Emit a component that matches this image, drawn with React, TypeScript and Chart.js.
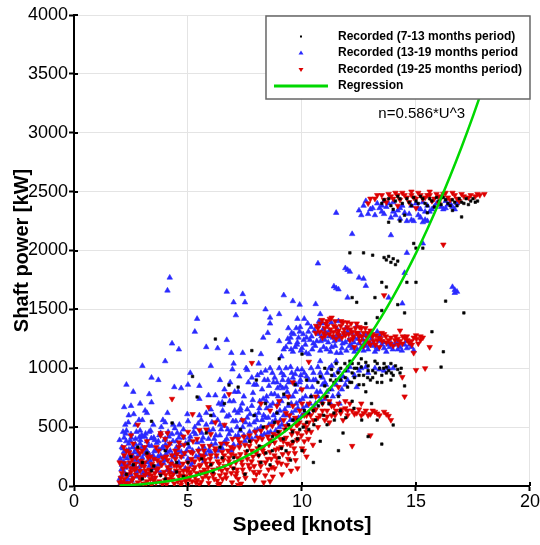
import React, { useEffect, useRef } from "react";
import { Chart, registerables } from "chart.js";

Chart.register(...registerables);

const FONT = "'Liberation Sans', Arial, Helvetica, sans-serif";

// ---------- axis settings ----------
const xTickValues = [0, 5, 10, 15, 20];
const yTickValues = [0, 500, 1000, 1500, 2000, 2500, 3000, 3500, 4000];
const xTitle = "Speed [knots]";
const yTitle = "Shaft power [kW]";

// ---------- legend / annotation ----------
const legendLabels = [
  "Recorded (7-13 months period)",
  "Recorded (13-19 months period",
  "Recorded (19-25 months period)",
  "Regression",
];
const annotationText = "n=0.586*U^3";
const annotationPos = [13.35, 3160];

// ---------- regression n = 0.586*U^3 ----------
const regressionSpeed = [2, 2.5, 3, 3.5, 4, 4.5, 5, 5.5, 6, 6.5, 7, 7.5, 8, 8.5, 9, 9.5, 10, 10.5, 11, 11.5, 12, 12.5, 13, 13.5, 14, 14.5, 15, 15.5, 16, 16.5, 17, 17.5, 18, 18.5, 18.9];
const regressionPower = [4.7, 9.2, 15.8, 25.1, 37.5, 53.4, 73.3, 97.5, 126.6, 160.9, 201, 247.2, 300, 359.9, 427.2, 502.4, 586, 678.4, 780, 891.2, 1012.6, 1144.5, 1287.4, 1441.8, 1608, 1786.5, 1977.8, 2182.2, 2400.3, 2632.4, 2879, 3140.6, 3417.6, 3710.3, 3956.2];

// ---------- Recorded (7-13 months) : [speed knots, power kW] ----------
const black713Low: [number, number][] = [
  [2.3,100],[2.5,250],[2.8,330],[3.0,60],[3.2,280],[3.4,550],[3.5,170],[3.8,90],[4.0,300],[4.3,535],
  [4.5,200],[4.8,80],[5.0,360],[5.2,930],[5.4,756],[5.6,230],[5.8,450],[6.0,600],[6.1,120],[6.2,1248],
  [6.4,330],[6.6,700],[6.8,857],[7.0,240],[7.2,840],[7.3,480],[7.5,100],[7.7,380],[7.8,1150],[7.9,600],
  [8.0,900],[8.1,260],[8.3,500],[8.4,700],[8.6,180],[8.7,420],[8.9,620],[9.0,1080],[9.1,320],[9.2,780],
  [9.3,480],[9.5,220],[9.6,560],[9.7,860],[9.8,400],[10.0,1120],[10.0,300],[10.1,640],[10.3,480],[10.4,760],
  [10.5,200],[10.6,560],[10.7,880],[10.8,380],[10.9,700],[11.0,1000],[11.1,520],[11.2,820],[11.3,940],[11.4,620],
  [11.5,1040],[11.6,760],[11.7,900],[11.8,450],[11.9,980],[12.0,840],[12.1,1060],[12.2,720],[12.3,920],[12.4,1000],
  [12.5,860],[12.6,1080],[12.7,940],[12.8,800],[12.9,1020],[13.0,900],[13.1,980],[13.2,1060],[13.3,880],[13.4,1000],
  [13.5,940],[13.6,1040],[13.8,980],[13.9,900],[14.1,1020],[14.3,960],[14.5,850],[13.5,356],[14.0,518],[12.9,420],
  [13.3,560],[11.6,300],[12.0,1010],[12.8,1050],[13.7,1010],[11.4,880],[12.2,960],[10.2,900],[9.4,700],[8.8,540],
];
const black713Fill: [number, number][] = [
  [10.8,930],[11.0,850],[11.3,990],[11.5,900],[11.7,1000],[11.9,920],[12.1,880],[12.3,1000],[12.5,940],[12.7,860],
  [12.9,980],[13.1,920],[13.3,1040],[13.5,880],[13.7,960],[13.9,1040],[14.0,940],[14.2,990],[12.6,1010],[12.2,1040],
  [11.1,760],[10.5,640],[10.2,540],[9.9,480],[9.6,380],[9.3,300],[9.0,240],[8.7,300],[8.2,200],[7.6,300],
  [7.0,150],[6.5,240],[6.0,180],[5.5,100],[5.0,200],[4.5,120],[4.0,60],[3.4,130],[3.0,200],[2.6,180],
  [8.12,340],[8.42,280],[8.68,380],[8.95,460],[9.18,400],[9.42,520],[9.58,460],[9.82,560],[10.05,500],[10.28,620],
  [10.52,520],[10.72,680],[10.95,600],[11.18,700],[11.42,560],[11.68,640],[11.92,580],[12.28,660],[12.62,560],[13.05,700],
  [11.25,900],[11.58,960],[11.88,1040],[12.18,880],[12.48,1040],[12.88,920],[13.22,960],[13.58,1000],[13.92,960],[14.35,1000],
];
const black713Mid: [number, number][] = [
  [12.4,1560],[12.2,1600],[13.2,1600],[13.5,1490],[14.2,1540],[13.5,1730],[13.7,1690],[14.6,1730],[15.0,1730],[16.3,1570],
  [17.1,1470],[14.5,1470],[15.7,1310],[16.2,1140],[16.1,1010],[12.1,1980],[12.7,1980],[13.1,1960],[13.6,1940],[13.7,1920],
  [13.8,1950],[13.9,1900],[14.0,1930],[14.2,1910],[14.9,2060],[15.0,2020],[15.3,2020],[14.1,1880],[13.3,1430],[12.8,1380],
];
const black713Top: [number, number][] = [
  [13.5,2400],[13.8,2440],[14.0,2350],[14.2,2460],[14.4,2400],[14.6,2440],[14.8,2380],[15.0,2420],[15.2,2460],[15.4,2400],
  [15.6,2440],[15.8,2370],[16.0,2420],[16.2,2450],[16.4,2400],[16.6,2430],[16.8,2380],[17.0,2410],[17.2,2440],[17.4,2420],
  [17.7,2420],[17.0,2285],[13.8,2240],[14.5,2300],[15.5,2320],[16.6,2340],[14.3,2250],
  [13.6,2430],[13.9,2380],[14.1,2420],[14.3,2440],[14.7,2410],[14.9,2450],[15.1,2400],[15.3,2440],[15.5,2380],[15.7,2420],
  [15.9,2450],[16.1,2390],[16.3,2430],[16.5,2380],[16.7,2410],[16.9,2440],[17.1,2400],[17.3,2390],[17.5,2440],[17.6,2410],
];

// ---------- Recorded (13-19 months) ----------
const blue1319Low: [number, number][] = [
  [2.0,60],[2.1,180],[2.1,330],[2.2,120],[2.2,250],[2.2,410],[2.3,40],[2.3,300],[2.3,470],[2.4,190],
  [2.4,360],[2.5,90],[2.5,260],[2.5,440],[2.6,150],[2.6,330],[2.7,220],[2.7,400],[2.7,520],[2.8,80],
  [2.8,290],[2.9,170],[2.9,360],[2.9,470],[3.0,240],[3.0,420],[3.1,120],[3.1,320],[3.2,200],[3.2,380],
  [3.3,270],[3.3,460],[3.4,150],[3.4,340],[3.5,230],[3.5,410],[3.6,300],[3.7,180],[3.7,380],[3.8,260],
  [3.8,450],[3.9,330],[4.0,220],[4.0,400],[4.1,290],[4.2,360],[4.2,170],[4.3,440],[4.4,250],[4.5,330],
  [2.05,25],[2.12,95],[2.18,205],[2.27,155],[2.33,235],[2.41,310],[2.47,385],[2.53,45],[2.58,175],[2.64,285],
  [2.69,355],[2.76,125],[2.82,205],[2.87,415],[2.93,65],[2.98,330],[3.04,185],[3.09,270],[3.14,445],[3.21,95],
  [3.27,345],[3.33,215],[3.39,405],[3.44,60],[3.52,295],[3.58,155],[3.63,365],[3.69,250],[3.74,430],[3.81,110],
  [3.86,320],[3.93,195],[3.97,390],[4.04,270],[4.09,135],[4.16,420],[4.22,300],[4.28,205],[4.34,380],[4.41,115],
  [4.47,270],[4.53,450],[4.58,190],[4.66,350],[4.73,250],[4.81,410],[4.88,150],[4.94,300],[2.15,460],[2.38,540],
  [2.62,610],[2.85,560],[3.12,640],[3.48,520],[3.9,560],[4.35,520],[2.0,390],[2.25,520],[2.5,680],[3.3,780],
  [2.08,140],[2.19,290],[2.29,380],[2.36,60],[2.44,270],[2.51,410],[2.57,330],[2.68,170],[2.74,460],[2.81,260],
  [2.91,390],[3.02,110],[3.11,420],[3.19,300],[3.31,170],[3.36,470],[3.47,260],[3.54,390],[3.66,130],[3.72,310],
  [3.83,500],[3.91,240],[4.01,350],[4.13,460],[4.24,120],[4.31,260],[4.42,490],[4.49,380],[4.57,300],[4.68,440],
  [2.03,230],[2.14,320],[2.26,445],[2.46,110],[2.59,250],[2.72,310],[2.89,140],[2.96,430],
];
const blue1319Mid: [number, number][] = [
  [4.6,200],[4.6,410],[4.7,290],[4.8,480],[4.9,360],[5.0,230],[5.0,550],[5.1,420],[5.2,300],[5.3,500],
  [5.4,370],[5.5,260],[5.5,600],[5.6,450],[5.7,330],[5.8,520],[5.9,400],[6.0,290],[6.0,650],[6.1,480],
  [6.2,360],[6.3,560],[6.4,430],[6.5,320],[6.5,690],[6.6,510],[6.7,400],[6.8,600],[6.9,470],[7.0,350],
  [7.0,720],[7.1,550],[7.2,430],[7.3,640],[7.4,500],[7.5,380],[7.6,580],[7.7,460],[7.8,680],[7.9,540],
  [8.0,420],[8.1,620],[8.2,500],[8.3,740],[8.4,580],[8.5,450],[8.6,680],[8.7,540],[8.8,780],[8.9,620],
  [9.0,500],[9.1,720],[9.2,600],[9.3,840],[9.4,680],[9.5,560],[9.6,760],[9.7,640],[9.9,720],[10.0,600],
  [10.2,680],[10.4,760],[10.6,700],[10.8,800],[11.0,740],[11.3,820],[11.6,780],
  [5.05,330],[5.15,180],[5.25,460],[5.35,250],[5.45,530],[5.6,380],[5.7,210],[5.8,620],[5.9,300],[6.05,540],
  [6.15,400],[6.25,250],[6.35,700],[6.45,480],[6.55,360],[6.7,590],[6.8,440],[6.9,300],[7.05,640],[7.15,500],
  [7.25,360],[7.35,560],[7.45,430],[7.6,650],[7.7,520],[7.8,400],[7.95,600],[8.05,480],[8.15,720],[8.25,560],
  [8.35,440],[8.45,660],[8.55,520],[8.65,780],[8.75,600],[8.85,470],[8.95,700],[9.05,560],[9.15,830],[9.25,650],
  [9.35,520],[9.45,760],[9.55,620],[9.65,880],[9.75,700],[9.85,580],[9.95,820],[10.05,660],[10.15,760],[10.3,620],
  [10.45,840],[10.55,660],[10.7,760],[10.9,860],[11.1,800],[11.25,700],[11.5,860],[11.75,820],[12.0,900],[5.5,740],
  [6.6,820],[7.2,800],[8.0,860],[8.4,980],
  [4.62,520],[4.84,270],[4.97,610],[5.08,390],[5.21,200],[5.33,440],[5.47,310],[5.58,560],[5.66,410],[5.77,270],
  [5.92,470],[6.03,350],[6.12,600],[6.22,430],[6.33,300],[6.41,520],[6.52,640],[6.63,380],[6.74,480],[6.83,720],
  [6.97,550],[7.08,420],[7.18,620],[7.29,470],[7.38,700],[7.52,540],[7.63,410],[7.72,610],[7.84,730],[7.93,470],
  [8.02,560],[8.13,660],[8.22,430],[8.32,600],[8.43,720],[8.52,580],[8.62,460],[8.72,700],[8.83,560],[8.93,830],
  [9.03,640],[9.12,520],[9.22,760],[9.32,600],[9.43,880],[9.53,700],[9.62,560],[9.72,800],[9.82,660],[9.93,900],
  [10.02,740],[10.12,620],[10.22,840],[10.35,700],[10.5,900],[10.65,800],[10.85,720],[11.05,860],[11.35,760],[11.65,700],
  [6.6,760],[6.85,880],[7.05,800],[7.25,930],[7.45,760],[7.65,880],[7.85,790],[8.05,940],[8.25,820],[8.45,760],
  [8.55,850],[8.75,880],[8.95,760],[9.15,900],[9.35,800],[9.55,960],[9.75,860],[9.95,940],[7.55,1000],[8.1,1040],
  [6.95,990],[7.8,920],[8.35,900],[9.05,850],
];
const blue1319Band1000: [number, number][] = [
  [8.5,900],[8.7,960],[8.9,880],[9.0,1000],[9.2,940],[9.4,900],[9.5,1010],[9.7,950],[9.9,880],[10.0,990],
  [10.2,930],[10.4,1000],[10.6,900],[10.8,960],[11.0,880],[11.2,1000],[11.4,940],[11.7,900],[12.0,980],[12.3,940],
  [12.6,1000],[12.9,960],[13.2,1000],[13.6,980],[14.0,1000],[11.9,860],[12.4,840],[10.8,1060],[11.5,1060],
  [8.6,1000],[8.8,920],[9.1,960],[9.3,1000],[9.6,920],[9.8,990],[10.1,960],[10.3,900],[10.5,960],[10.7,1010],
  [10.9,920],[11.1,960],[11.3,1020],[11.6,980],[11.8,930],[12.1,1010],[12.5,980],[12.8,1010],[13.4,990],[13.8,1000],
];
const blue1319Band1250: [number, number][] = [
  [9.3,1180],[9.5,1260],[9.6,1140],[9.8,1220],[9.9,1310],[10.0,1170],[10.2,1260],[10.3,1120],[10.4,1350],[10.5,1210],
  [10.7,1290],[10.8,1150],[10.9,1380],[11.0,1240],[11.2,1320],[11.3,1180],[11.5,1270],[11.6,1400],[11.7,1130],[11.9,1220],
  [12.0,1310],[12.2,1170],[12.3,1260],[12.5,1210],[12.7,1150],[12.8,1280],[13.0,1200],[13.2,1140],[13.4,1230],[13.6,1170],
  [13.9,1210],[14.2,1160],[14.5,1200],[14.8,1180],[9.1,1100],[10.1,1420],[12.4,1360],[13.3,1310],
  [9.45,1220],[9.55,1300],[9.7,1180],[9.75,1340],[9.85,1260],[9.95,1150],[10.05,1290],[10.15,1200],[10.25,1380],[10.35,1240],
  [10.45,1160],[10.55,1320],[10.65,1230],[10.75,1400],[10.85,1270],[10.95,1180],[11.05,1300],[11.15,1220],[11.25,1140],[11.35,1260],
  [11.45,1190],[11.55,1330],[11.65,1240],[11.75,1170],[11.85,1290],[11.95,1150],[12.05,1240],[12.15,1200],[12.3,1140],[12.45,1250],
  [12.6,1180],[12.75,1220],[12.9,1160],[13.05,1250],[13.15,1190],[13.3,1160],[13.5,1200],[13.7,1140],[13.85,1180],[14.05,1200],
  [14.3,1180],[14.6,1170],[9.2,1160],[9.0,1230],[9.4,1340],[9.8,1420],
  [9.38,1250],[9.52,1160],[9.64,1290],[9.78,1200],[9.92,1350],[10.08,1240],[10.18,1130],[10.28,1310],[10.42,1270],[10.58,1190],
  [10.68,1360],[10.82,1230],[10.92,1330],[11.08,1160],[11.18,1270],[11.28,1390],[11.42,1230],[11.52,1130],[11.62,1290],[11.78,1210],
  [11.92,1340],[12.08,1190],[12.18,1300],[12.28,1220],[12.42,1160],[12.52,1290],[12.68,1240],[12.82,1190],[12.98,1270],[13.12,1220],
  [13.28,1180],[13.42,1280],[13.58,1220],[13.78,1200],[13.98,1160],[14.18,1220],[14.38,1150],[14.58,1230],[14.72,1200],[14.9,1150],
];
const blue1319Sparse: [number, number][] = [
  [2.2,670],[2.9,700],[3.2,620],[3.4,710],[4.1,620],[4.4,840],[5.0,860],[5.5,850],[5.9,770],[6.2,770],
  [4.0,540],[2.4,600],[3.0,560],[2.6,800],[3.7,900],[3.4,920],[4.0,1060],[4.3,1210],[4.6,1160],[4.2,1770],
  [4.1,1660],[4.7,830],[5.1,960],[6.0,1020],[6.3,1170],[6.9,1130],[7.0,1040],[7.4,1130],[7.6,985],[8.2,1120],
  [8.2,960],[6.5,710],[7.3,660],[6.7,1240],[6.7,1650],[7.4,1630],[7.0,1560],[7.5,1560],[8.4,1500],[7.1,1450],
  [8.6,1430],[8.6,1380],[8.5,1300],[8.3,1260],[9.0,1460],[9.6,1570],[9.9,1540],[10.6,1545],[10.8,1460],[5.3,1310],
  [5.8,1180],[6.4,900],[7.9,860],[3.0,1020],[2.3,860],[5.4,1420],[9.2,1620],
];
const blue1319Upper: [number, number][] = [
  [10.7,1890],[11.5,2320],[12.2,2140],[12.5,1770],[12.7,1760],[12.8,1700],[12.0,1600],[13.8,1600],[14.4,1550],[14.5,1810],
  [14.6,1980],[15.3,2060],[13.9,2130],[12.0,1835],[11.9,1850],[12.1,1820],[11.5,1680],[11.4,1695],[11.6,1670],[16.7,1665],
  [16.6,1690],[16.8,1650],[16.7,1640],
];
const blue1319Top: [number, number][] = [
  [12.5,2340],[12.7,2380],[12.9,2310],[13.1,2360],[13.3,2400],[13.5,2330],[13.7,2370],[13.9,2280],[14.0,2410],[14.2,2340],
  [14.4,2380],[14.6,2250],[14.7,2310],[14.9,2250],[15.0,2400],[15.2,2350],[15.3,2240],[15.4,2260],[15.5,2380],[15.6,2330],
  [15.8,2370],[16.0,2400],[16.2,2350],[16.4,2390],[16.6,2370],[16.8,2400],[14.1,2300],[13.6,2420],[15.1,2300],[16.3,2420],
  [12.6,2300],[12.8,2420],[13.0,2350],[13.2,2300],[13.4,2360],[13.6,2310],[13.8,2400],[14.0,2330],[14.3,2360],[14.5,2320],
  [14.8,2380],[15.1,2360],[15.3,2410],[15.4,2330],[15.7,2350],[15.9,2400],[16.1,2370],[16.3,2360],[16.5,2400],[16.7,2350],
  [15.2,2280],[15.5,2250],[14.8,2260],[14.3,2270],[13.5,2380],
];

// ---------- Recorded (19-25 months) ----------
const red1925Low: [number, number][] = [
  [2.0,30],[2.1,110],[2.2,60],[2.3,170],[2.4,20],[2.5,120],[2.6,70],[2.7,190],[2.8,30],[2.9,130],
  [3.0,80],[3.1,200],[3.2,40],[3.3,140],[3.4,90],[3.5,230],[3.6,30],[3.7,150],[3.8,100],[3.9,240],
  [4.0,50],[4.1,160],[4.2,110],[4.3,260],[4.4,20],[4.5,170],[4.6,80],[4.7,250],[4.8,130],[4.9,40],
  [5.0,200],[5.1,100],[5.2,280],[5.3,160],[5.4,50],[5.5,230],[5.6,120],[5.7,300],[5.8,190],[5.9,70],
  [6.0,260],[6.1,140],[6.2,320],[6.3,210],[6.4,90],[6.5,290],[6.6,170],[6.7,360],[6.8,240],[6.9,110],
  [7.0,320],[7.1,200],[7.2,400],[7.3,270],[7.4,140],[7.5,350],[7.6,230],[7.7,430],[7.8,300],[7.9,170],
  [8.0,380],[8.1,260],[8.2,470],[8.3,330],[8.4,200],[8.5,420],[8.6,290],[8.7,510],[8.8,370],[8.9,240],
  [9.0,460],[9.1,330],[9.2,560],[9.3,410],[9.4,280],[9.5,500],[9.6,370],[9.8,450],[10.0,320],[10.2,250],
  [3.0,300],[3.6,330],[4.2,360],[2.5,260],[4.8,420],[5.4,400],[6.0,440],[2.0,200],[2.2,260],[3.4,10],
  [5.0,10],[6.4,20],[7.2,60],[8.0,100],[8.8,150],[2.6,360],[3.8,430],[4.6,330],
  [2.05,70],[2.15,150],[2.25,20],[2.35,100],[2.45,200],[2.55,50],[2.65,140],[2.75,240],[2.85,80],[2.95,180],
  [3.05,20],[3.15,130],[3.25,240],[3.35,60],[3.45,170],[3.55,110],[3.65,220],[3.75,40],[3.85,180],[3.95,120],
  [4.05,250],[4.15,60],[4.25,190],[4.35,100],[4.45,230],[4.55,40],[4.65,160],[4.75,90],[4.85,280],[4.95,130],
  [5.05,60],[5.15,230],[5.25,140],[5.35,30],[5.45,300],[5.55,180],[5.65,70],[5.75,220],[5.85,120],[5.95,340],
  [6.05,190],[6.15,60],[6.25,260],[6.35,150],[6.45,360],[6.55,220],[6.65,100],[6.75,300],[6.85,180],[6.95,400],
  [7.05,260],[7.15,140],[7.25,330],[7.35,210],[7.45,420],[7.55,290],[7.65,180],[7.75,380],[7.85,250],[7.95,460],
  [8.05,320],[8.15,200],[8.25,400],[8.35,280],[8.45,500],[8.55,350],[8.65,230],[8.75,440],[8.85,310],[8.95,540],
  [9.05,400],[9.15,270],[9.25,480],[9.35,360],[9.45,600],[9.55,440],[9.65,320],[9.75,520],[9.85,400],[10.1,380],
  [3.2,380],[4.0,400],[5.0,460],[5.8,480],[6.6,520],[2.3,300],[2.9,280],[7.2,10],[8.6,40],[9.8,150],
  [2.12,35],[2.31,88],[2.48,152],[2.66,12],[2.71,96],[2.93,58],[3.08,165],[3.17,22],[3.29,105],[3.42,188],
  [3.57,72],[3.61,140],[3.78,205],[3.88,15],[4.02,95],[4.11,220],[4.19,140],[4.32,55],[4.39,175],[4.51,270],
  [4.62,115],[4.71,35],[4.78,190],[4.91,85],[5.02,150],[5.11,290],[5.18,40],[5.29,210],[5.38,110],[5.51,170],
  [5.58,35],[5.69,250],[5.78,90],[5.88,160],[5.97,230],[6.08,100],[6.19,300],[6.28,45],[6.37,190],[6.48,130],
  [6.59,260],[6.68,70],[6.79,210],[6.88,330],[6.98,150],[7.09,85],[7.18,240],[7.28,370],[7.39,180],[7.48,100],
  [7.58,260],[7.69,340],[7.79,210],[7.88,120],[7.99,280],[8.09,410],[8.19,170],[8.28,300],[8.39,90],[8.49,230],
  [8.58,390],[8.68,160],[8.79,260],[8.88,430],[8.98,320],[9.09,190],[9.18,380],[9.29,510],[9.39,230],[9.48,350],
  [9.59,470],[9.69,280],[9.78,390],[9.89,540],[9.98,430],[10.08,300],[10.18,500],[10.28,400],[10.38,600],[10.48,350],
  [2.18,330],[2.42,285],[2.79,310],[3.22,265],[3.71,300],[4.08,330],[4.44,300],[4.83,350],[5.22,380],[5.64,340],
  [4.06,15],[4.27,80],[4.48,130],[4.69,10],[4.88,60],[5.09,120],[5.31,75],[5.49,15],[5.72,140],[5.91,25],
  [6.11,95],[6.33,10],[6.52,60],[6.71,140],[6.93,30],[7.13,110],[7.33,20],[7.52,70],[7.71,150],[7.92,50],
  [8.13,120],[8.32,30],[8.53,140],[8.72,80],[8.93,200],[9.12,100],[9.33,180],[9.52,130],[9.72,220],[5.6,260],
  [6.9,270],[8.2,330],[3.48,50],[3.12,95],[2.72,150],[2.38,25],[2.2,195],[2.55,225],[2.95,215],[3.35,250],
];
const red1925Curve: [number, number][] = [
  [9.7,580],[9.9,640],[10.1,520],[10.2,600],[10.3,700],[10.4,460],[10.5,560],[10.6,650],[10.7,500],[10.8,600],
  [10.9,700],[11.0,560],[11.1,640],[11.2,720],[11.3,600],[11.4,680],[11.5,640],[11.7,620],[11.9,660],[12.0,600],
  [12.2,640],[12.4,620],[12.6,600],[12.8,640],[13.0,610],[13.2,630],[13.4,600],[13.7,610],[13.9,560],[12.1,700],
  [11.8,560],[13.0,430],[12.2,340],[14.5,760],[9.0,720],[9.4,760],[8.6,640],[10.0,820],[11.6,840],
  [9.6,680],[9.8,520],[10.0,700],[10.1,600],[10.3,540],[10.5,640],[10.6,760],[10.7,580],[10.9,640],[11.0,760],
  [11.1,590],[11.3,680],[11.45,600],[11.6,700],[11.75,650],[12.0,640],[12.3,610],[12.5,650],[12.7,620],[12.9,600],
  [13.1,640],[13.3,615],[13.6,630],[13.8,595],[11.9,720],[11.2,540],[10.2,460],[9.3,620],[8.9,680],[12.6,700],
];
const red1925Band: [number, number][] = [
  [10.6,1300],[10.8,1380],[10.9,1260],[11.0,1340],[11.1,1400],[11.2,1290],[11.4,1360],[11.5,1250],[11.6,1320],[11.8,1390],
  [11.9,1280],[12.0,1350],[12.1,1240],[12.2,1310],[12.4,1380],[12.5,1270],[12.6,1340],[12.8,1230],[12.9,1300],[13.0,1200],
  [13.1,1270],[13.3,1240],[13.4,1180],[13.5,1300],[13.7,1220],[13.9,1260],[14.0,1190],[14.2,1250],[14.4,1210],[14.6,1270],
  [14.8,1230],[15.0,1280],[15.2,1240],[14.3,1320],[15.4,1000],[15.0,985],[14.4,925],[14.9,1130],[15.6,1180],[12.3,1180],
  [11.3,1430],
  [10.7,1340],[10.95,1300],[11.05,1380],[11.25,1330],[11.35,1270],[11.45,1400],[11.55,1300],[11.7,1360],[11.75,1260],[11.85,1330],
  [12.05,1290],[12.15,1380],[12.25,1270],[12.35,1340],[12.45,1300],[12.55,1230],[12.7,1300],[12.85,1260],[13.0,1320],[13.15,1230],
  [13.25,1280],[13.45,1250],[13.6,1290],[13.8,1240],[14.1,1270],[14.3,1230],[14.5,1260],[14.7,1220],[14.9,1260],[15.1,1210],
  [15.3,1260],[12.7,1190],
  [10.62,1360],[10.78,1310],[10.88,1410],[11.02,1280],[11.12,1360],[11.22,1420],[11.38,1310],[11.48,1350],[11.62,1280],[11.72,1400],
  [11.82,1300],[11.98,1390],[12.12,1330],[12.22,1250],[12.38,1300],[12.52,1350],[12.62,1270],[12.78,1340],[12.92,1220],[13.08,1290],
  [13.22,1200],[13.38,1260],[13.52,1230],[13.68,1270],[13.88,1210],[14.08,1240],[14.22,1200],[14.42,1270],[14.62,1240],[14.82,1200],
  [15.02,1250],[15.2,1270],
];
const red1925Sparse: [number, number][] = [
  [4.3,740],[5.9,670],[7.8,1045],[10.3,1055],[5.2,610],[5.5,475],[4.1,450],[2.5,430],[3.8,450],[3.1,330],
  [4.6,370],[6.8,780],[7.4,560],[8.2,700],[9.6,880],[2.8,520],[6.2,540],
];
const red1925Top: [number, number][] = [
  [12.9,2400],[13.2,2440],[13.5,2470],[13.7,2410],[13.9,2460],[14.1,2490],[14.3,2430],[14.5,2470],[14.7,2410],[14.9,2450],
  [15.1,2490],[15.3,2440],[15.5,2470],[15.7,2420],[15.9,2480],[16.1,2450],[16.3,2490],[16.5,2430],[16.7,2470],[16.9,2420],
  [17.1,2460],[17.4,2470],[17.7,2480],[16.2,2050],[13.6,1620],[14.2,2380],[15.0,2360],[16.0,2400],[14.8,2500],[15.6,2500],
  [13.0,2440],[13.3,2470],[13.6,2430],[13.8,2480],[14.0,2440],[14.2,2470],[14.4,2490],[14.6,2450],[14.8,2470],[15.0,2440],
  [15.2,2470],[15.4,2450],[15.6,2470],[15.8,2440],[16.0,2460],[16.2,2480],[16.4,2450],[16.6,2490],[16.8,2440],[17.0,2480],
  [17.3,2450],[17.6,2460],[17.8,2470],[18.0,2480],
];

const COLOR_BLACK = "#000000";
const COLOR_BLUE = "#2a2aff";
const COLOR_RED = "#dd0000";
const COLOR_GREEN = "#00d800";

const toXY = (arr: [number, number][]) => arr.map(([x, y]) => ({ x, y }));

const overlayPlugin = {
  id: "overlay",
  afterDraw(chart: any) {
    const ctx: CanvasRenderingContext2D = chart.ctx;
    const xs = chart.scales.x;
    const ys = chart.scales.y;
    const area = chart.chartArea;
    ctx.save();
    ctx.strokeStyle = "#000";
    ctx.lineWidth = 2;
    for (const v of xTickValues) {
      const px = Math.round(xs.getPixelForValue(v));
      ctx.beginPath();
      ctx.moveTo(px, area.bottom);
      ctx.lineTo(px, area.bottom - 4);
      ctx.stroke();
    }
    for (const v of yTickValues) {
      const py = Math.round(ys.getPixelForValue(v));
      ctx.beginPath();
      ctx.moveTo(area.left, py);
      ctx.lineTo(area.left + 4, py);
      ctx.stroke();
    }
    ctx.font = `15px ${FONT}`;
    ctx.fillStyle = "#000";
    ctx.textBaseline = "middle";
    ctx.textAlign = "left";
    ctx.fillText(annotationText, xs.getPixelForValue(annotationPos[0]), ys.getPixelForValue(annotationPos[1]));

    const w = 264, h = 83;
    const lx = area.right - w, ly = area.top + 1;
    ctx.fillStyle = "#fff";
    ctx.fillRect(lx, ly, w, h);
    ctx.strokeStyle = "#666";
    ctx.lineWidth = 1.5;
    ctx.strokeRect(lx, ly, w, h);
    const rows = [20.5, 37, 53.5, 70];
    const mx = lx + 35;
    ctx.fillStyle = COLOR_BLACK;
    ctx.fillRect(mx - 1, ly + rows[0] - 1, 2, 2);
    ctx.fillStyle = COLOR_BLUE;
    ctx.beginPath();
    ctx.moveTo(mx, ly + rows[1] - 2.5);
    ctx.lineTo(mx + 2.5, ly + rows[1] + 1.5);
    ctx.lineTo(mx - 2.5, ly + rows[1] + 1.5);
    ctx.closePath();
    ctx.fill();
    ctx.fillStyle = COLOR_RED;
    ctx.beginPath();
    ctx.moveTo(mx, ly + rows[2] + 2.5);
    ctx.lineTo(mx + 2.5, ly + rows[2] - 1.5);
    ctx.lineTo(mx - 2.5, ly + rows[2] - 1.5);
    ctx.closePath();
    ctx.fill();
    ctx.strokeStyle = COLOR_GREEN;
    ctx.lineWidth = 3;
    ctx.beginPath();
    ctx.moveTo(lx + 8, ly + rows[3]);
    ctx.lineTo(lx + 62, ly + rows[3]);
    ctx.stroke();
    ctx.fillStyle = "#000";
    ctx.font = `bold 12px ${FONT}`;
    ctx.textBaseline = "middle";
    legendLabels.forEach((t, i) => ctx.fillText(t, lx + 72, ly + rows[i]));
    ctx.restore();
  },
};

export default function App() {
  const ref = useRef<HTMLCanvasElement | null>(null);
  useEffect(() => {
    if (!ref.current) return;
    const pointCommon = { showLine: false, pointBorderWidth: 0.6 };
    const chart = new Chart(ref.current, {
      type: "scatter",
      data: {
        datasets: [
          {
            type: "line",
            label: legendLabels[3],
            data: regressionSpeed.map((s, i) => ({ x: s, y: regressionPower[i] })),
            borderColor: COLOR_GREEN,
            borderWidth: 2.5,
            pointRadius: 0,
            fill: false,
            cubicInterpolationMode: "monotone",
            order: 0,
          } as any,
          {
            label: legendLabels[0],
            data: toXY([...black713Low, ...black713Fill, ...black713Mid, ...black713Top]),
            pointStyle: "rect",
            pointRadius: 1.8,
            backgroundColor: COLOR_BLACK,
            borderColor: COLOR_BLACK,
            ...pointCommon,
            order: 1,
          },
          {
            label: legendLabels[2],
            data: toXY([...red1925Low, ...red1925Curve, ...red1925Band, ...red1925Sparse, ...red1925Top]),
            pointStyle: "triangle",
            pointRotation: 180,
            pointRadius: 3.2,
            backgroundColor: COLOR_RED,
            borderColor: COLOR_RED,
            ...pointCommon,
            order: 2,
          },
          {
            label: legendLabels[1],
            data: toXY([...blue1319Low, ...blue1319Mid, ...blue1319Band1000, ...blue1319Band1250, ...blue1319Sparse, ...blue1319Upper, ...blue1319Top]),
            pointStyle: "triangle",
            pointRadius: 3.2,
            backgroundColor: COLOR_BLUE,
            borderColor: COLOR_BLUE,
            ...pointCommon,
            order: 3,
          },
        ],
      },
      options: {
        responsive: false,
        animation: false,
        devicePixelRatio: 1,
        layout: { padding: { top: 15, right: 10, left: 0, bottom: 0 } },
        plugins: { legend: { display: false }, tooltip: { enabled: false } },
        scales: {
          x: {
            type: "linear",
            min: 0,
            max: 20,
            afterBuildTicks: (s: any) => { s.ticks = xTickValues.map((v) => ({ value: v })); },
            ticks: { color: "#000", font: { family: FONT, size: 18 }, padding: 0, maxRotation: 0, callback: (v: any) => String(v) },
            grid: { color: "#e4e4e4", tickColor: "#000", tickLength: 5, tickWidth: 2 },
            border: { color: "#000", width: 2 },
            title: { display: true, text: xTitle, color: "#000", font: { family: FONT, size: 21, weight: "bold" }, padding: { top: 0, bottom: 7 } },
            afterFit: (s: any) => { s.height = 59; },
          },
          y: {
            type: "linear",
            min: 0,
            max: 4000,
            afterBuildTicks: (s: any) => { s.ticks = yTickValues.map((v) => ({ value: v })); },
            ticks: { color: "#000", font: { family: FONT, size: 18 }, padding: 1, callback: (v: any) => String(v) },
            grid: { color: "#e4e4e4", tickColor: "#000", tickLength: 5, tickWidth: 2 },
            border: { color: "#000", width: 2 },
            title: { display: true, text: yTitle, color: "#000", font: { family: FONT, size: 20, weight: "bold" }, padding: { top: 10, bottom: 0 } },
            afterFit: (s: any) => { s.width = 74; },
          },
        },
      } as any,
      plugins: [overlayPlugin],
    });
    return () => chart.destroy();
  }, []);
  return (
    <div style={{ position: "fixed", left: 0, top: 0, width: 540, height: 545, background: "#fff" }}>
      <canvas ref={ref} width={540} height={545} style={{ display: "block", width: 540, height: 545 }} />
    </div>
  );
}
